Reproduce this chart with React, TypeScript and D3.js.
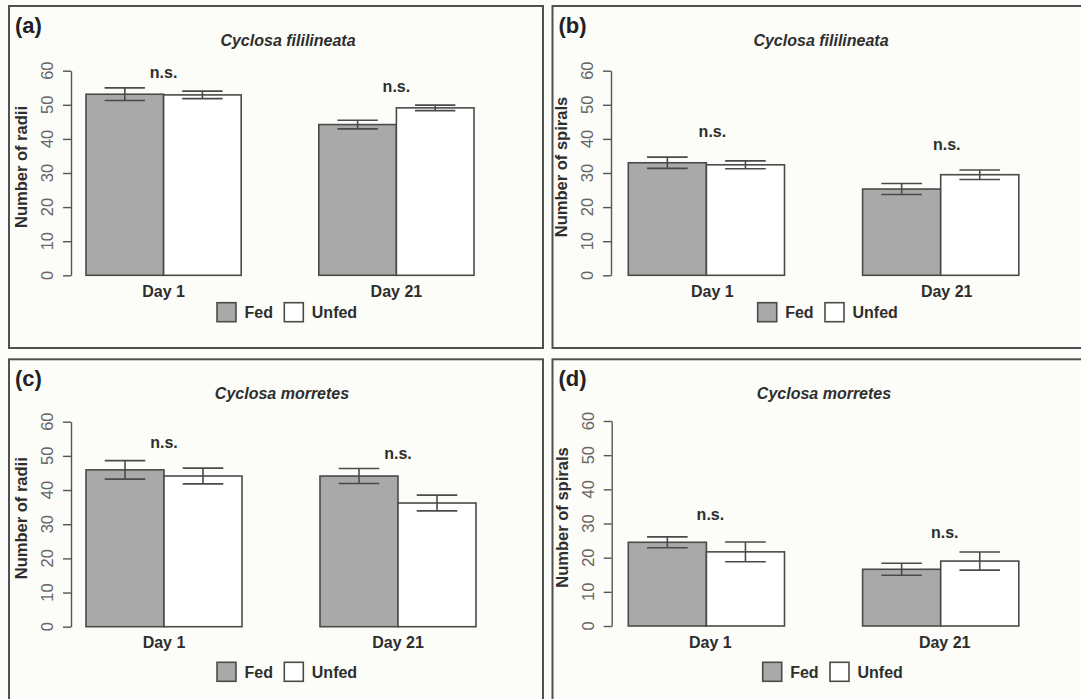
import React, { useEffect, useRef } from 'react'
import * as d3 from 'd3'

const groups = ['Day 1', 'Day 21']
const treatments = ['Fed', 'Unfed']
const yTicks = [0, 10, 20, 30, 40, 50, 60]

// (a) Cyclosa fililineata - radii
const radiiFililineataFed = [53.1, 44.2]
const radiiFililineataFedErr = [1.85, 1.25]
const radiiFililineataUnfed = [52.9, 49.1]
const radiiFililineataUnfedErr = [1.1, 0.8]
const radiiFililineataNs = [59, 55]

// (b) Cyclosa fililineata - spirals
const spiralsFililineataFed = [33.0, 25.3]
const spiralsFililineataFedErr = [1.65, 1.6]
const spiralsFililineataUnfed = [32.4, 29.5]
const spiralsFililineataUnfedErr = [1.15, 1.4]
const spiralsFililineataNs = [41.6, 38]

// (c) Cyclosa morretes - radii
const radiiMorretesFed = [45.9, 44.1]
const radiiMorretesFedErr = [2.7, 2.2]
const radiiMorretesUnfed = [44.1, 36.2]
const radiiMorretesUnfedErr = [2.3, 2.3]
const radiiMorretesNs = [53.5, 50.3]

// (d) Cyclosa morretes - spirals
const spiralsMorretesFed = [24.5, 16.6]
const spiralsMorretesFedErr = [1.6, 1.75]
const spiralsMorretesUnfed = [21.7, 19.0]
const spiralsMorretesUnfedErr = [2.9, 2.65]
const spiralsMorretesNs = [32.3, 26.8]

const panels = [
  {
    tag: '(a)', title: 'Cyclosa fililineata', yLabel: 'Number of radii',
    fed: radiiFililineataFed, fedErr: radiiFililineataFedErr,
    unfed: radiiFililineataUnfed, unfedErr: radiiFililineataUnfedErr, ns: radiiFililineataNs,
    frame: [9, 6, 534, 342], axisX: 71, y0: 275.3, y60: 70.7, barX: 86, unit: 77.6,
    titleX: 288, shift: 0, legendX: 217, legendDy: 27.4
  },
  {
    tag: '(b)', title: 'Cyclosa fililineata', yLabel: 'Number of spirals',
    fed: spiralsFililineataFed, fedErr: spiralsFililineataFedErr,
    unfed: spiralsFililineataUnfed, unfedErr: spiralsFililineataUnfedErr, ns: spiralsFililineataNs,
    frame: [552.5, 6, 540, 342], axisX: 611, y0: 275.3, y60: 70.7, barX: 628.3, unit: 78.1,
    titleX: 821, shift: 6, legendX: 757.7, legendDy: 27.4
  },
  {
    tag: '(c)', title: 'Cyclosa morretes', yLabel: 'Number of radii',
    fed: radiiMorretesFed, fedErr: radiiMorretesFedErr,
    unfed: radiiMorretesUnfed, unfedErr: radiiMorretesUnfedErr, ns: radiiMorretesNs,
    frame: [9, 359.3, 534, 345], axisX: 71, y0: 626.7, y60: 421.7, barX: 86, unit: 78,
    titleX: 282, shift: 0, legendX: 217, legendDy: 35.6
  },
  {
    tag: '(d)', title: 'Cyclosa morretes', yLabel: 'Number of spirals',
    fed: spiralsMorretesFed, fedErr: spiralsMorretesFedErr,
    unfed: spiralsMorretesUnfed, unfedErr: spiralsMorretesUnfedErr, ns: spiralsMorretesNs,
    frame: [552.5, 359.3, 540, 345], axisX: 611.7, y0: 626, y60: 421, barX: 628.3, unit: 78.1,
    titleX: 824, shift: 4, legendX: 762.7, legendDy: 36.3
  }
]

const FONT = 'Liberation Sans, Arial, sans-serif'
const INK = '#2e2e2e'
const LINE = '#4a4a4a'
const colors = { Fed: '#a9a9a9', Unfed: '#ffffff' }

function Panels() {
  const ref = useRef(null)

  useEffect(() => {
    const svg = d3.select(ref.current)
    svg.selectAll('*').remove()

    svg.append('rect')
      .attr('width', 1081).attr('height', 699)
      .attr('fill', '#fcfcf8')

    panels.forEach(p => {
      const g = svg.append('g')
      const [fx, fy, fw, fh] = p.frame

      g.append('rect')
        .attr('x', fx).attr('y', fy).attr('width', fw).attr('height', fh)
        .attr('fill', 'none').attr('stroke', '#505050').attr('stroke-width', 2)

      const y = d3.scaleLinear().domain([0, 60]).range([p.y0, p.y60])
      // R barplot style: bars 1 unit wide, 1 unit gap between groups
      const x = d3.scaleLinear().domain([0, 5]).range([p.barX, p.barX + 5 * p.unit])

      // y axis
      const axis = g.append('g')
        .attr('transform', `translate(${p.axisX},0)`)
        .call(d3.axisLeft(y).tickValues(yTicks).tickSize(8).tickSizeOuter(0).tickFormat(() => ''))
      axis.select('.domain').attr('stroke', '#555').attr('stroke-width', 1.4)
      axis.selectAll('.tick line').attr('stroke', '#555').attr('stroke-width', 1.4)

      g.selectAll('.ytl')
        .data(yTicks)
        .join('text')
        .attr('class', 'ytl')
        .attr('transform', d => `translate(${p.axisX - 23.5},${y(d)}) rotate(-90)`)
        .attr('text-anchor', 'middle')
        .attr('dy', '0.36em')
        .attr('font-family', FONT)
        .attr('font-size', 16.5)
        .attr('fill', '#666')
        .text(d => d)

      g.append('text')
        .attr('transform', `translate(${p.axisX - 49.5},${(p.y0 + p.y60) / 2 - 6}) rotate(-90)`)
        .attr('text-anchor', 'middle')
        .attr('dy', '0.36em')
        .attr('font-family', FONT)
        .attr('font-weight', 'bold')
        .attr('font-size', 16.5)
        .attr('fill', INK)
        .text(p.yLabel)

      // bars
      const rows = groups.flatMap((grp, i) => [
        { grp, i, key: 'Fed', v: p.fed[i], e: p.fedErr[i], pos: i * 3 },
        { grp, i, key: 'Unfed', v: p.unfed[i], e: p.unfedErr[i], pos: i * 3 + 1 }
      ])

      g.selectAll('.bar')
        .data(rows)
        .join('rect')
        .attr('class', 'bar')
        .attr('x', d => x(d.pos))
        .attr('width', x(1) - x(0))
        .attr('y', d => y(d.v))
        .attr('height', d => y(0) - y(d.v))
        .attr('fill', d => colors[d.key])
        .attr('stroke', LINE)
        .attr('stroke-width', 1.6)

      // error bars
      const cap = (x(1) - x(0)) * 0.26
      rows.forEach(d => {
        const cx = x(d.pos + 0.5)
        const eg = g.append('g').attr('stroke', LINE).attr('stroke-width', 1.6)
        eg.append('line').attr('x1', cx).attr('x2', cx).attr('y1', y(d.v + d.e)).attr('y2', y(d.v - d.e))
        eg.append('line').attr('x1', cx - cap).attr('x2', cx + cap).attr('y1', y(d.v + d.e)).attr('y2', y(d.v + d.e))
        eg.append('line').attr('x1', cx - cap).attr('x2', cx + cap).attr('y1', y(d.v - d.e)).attr('y2', y(d.v - d.e))
      })

      // group labels + n.s.
      groups.forEach((grp, i) => {
        const cx = x(i * 3 + 1) + p.shift
        g.append('text')
          .attr('x', cx).attr('y', p.y0 + 21.5)
          .attr('text-anchor', 'middle')
          .attr('font-family', FONT).attr('font-weight', 'bold').attr('font-size', 16)
          .attr('fill', INK)
          .text(grp)
        g.append('text')
          .attr('x', cx).attr('y', y(p.ns[i]) + 4)
          .attr('text-anchor', 'middle')
          .attr('font-family', FONT).attr('font-weight', 'bold').attr('font-size', 16)
          .attr('fill', INK)
          .text('n.s.')
      })

      // panel tag and species title
      g.append('text')
        .attr('x', fx + 6).attr('y', fy + 26.5)
        .attr('font-family', FONT).attr('font-weight', 'bold').attr('font-size', 22)
        .attr('fill', '#222')
        .text(p.tag)

      g.append('text')
        .attr('x', p.titleX).attr('y', fy + 39.5)
        .attr('text-anchor', 'middle')
        .attr('font-family', FONT).attr('font-weight', 'bold').attr('font-style', 'italic')
        .attr('font-size', 16)
        .attr('fill', INK)
        .text(p.title)

      // legend
      const ly = p.y0 + p.legendDy
      const offsets = { Fed: 0, Unfed: 67.3 }
      treatments.forEach(t => {
        const lx = p.legendX + offsets[t]
        g.append('rect')
          .attr('x', lx).attr('y', ly).attr('width', 19).attr('height', 19)
          .attr('fill', colors[t]).attr('stroke', LINE).attr('stroke-width', 1.6)
        g.append('text')
          .attr('x', lx + 27.5).attr('y', ly + 15.5)
          .attr('font-family', FONT).attr('font-weight', 'bold').attr('font-size', 16)
          .attr('fill', INK)
          .text(t)
      })
    })
  }, [])

  return <svg ref={ref} width={1081} height={699} style={{ position: 'absolute', left: 0, top: 0 }} />
}

export default function App() {
  return <Panels />
}
